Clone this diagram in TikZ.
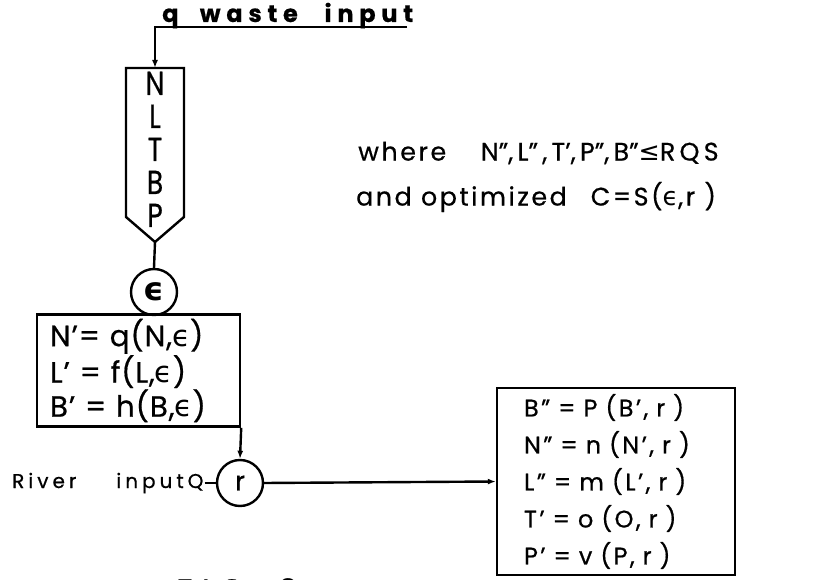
\documentclass[tikz,border=0pt]{standalone}
\usepackage{fontspec}
\setmainfont{Poppins}[FakeBold=0.6]
\newfontfamily\dv{DejaVu Sans}
\usetikzlibrary{arrows.meta}
\begin{document}
\begin{tikzpicture}[x=0.75pt,y=-0.75pt,
  line width=1.8pt,
  arr/.style={-{Latex[length=6pt,width=4.5pt]}},
  lbl/.style={font=\fontsize{19}{22}\selectfont\addfontfeature{LetterSpace=10}, inner sep=0pt},
  big/.style={font=\fontsize{25}{22}\selectfont, inner sep=0pt, text height=12pt, text depth=0pt, anchor=center},
  ring/.style={circle, draw, minimum size=34.5pt, inner sep=0pt},
  eqbox/.style={draw, align=left, anchor=center}
]
\useasboundingbox (0,0) rectangle (814,580);
% top input
\node[lbl, font=\fontsize{18}{22}\selectfont\bfseries\addfontfeature{LetterSpace=24}, anchor=base west] (waste) at (161,22) {q\hspace{16pt}waste\hspace{20pt}input};
\coordinate (wend) at (407,27);
% pentagon
\coordinate (pa) at (126,68);
\coordinate (ptop) at (155,68);
\coordinate (pb) at (184,68);
\coordinate (pc) at (184,217);
\coordinate (pd) at (155,242);
\coordinate (pe) at (126,217);
\draw (pa) -- (pb) -- (pc) -- (pd) -- (pe) -- cycle;
\draw[arr] (wend) -| (ptop);
\node[big] (lN) at (155,87) {\scalebox{0.8}[1]{N}};
\node[big] (lL) at (155,120) {\scalebox{0.8}[1]{L}};
\node[big] (lT) at (155,153) {\scalebox{0.8}[1]{T}};
\node[big] (lB) at (155,186) {\scalebox{0.8}[1]{B}};
\node[big] (lP) at (155,219) {\scalebox{0.8}[1]{P}};
% epsilon circle
\node[ring, font=\fontsize{24}{22}\selectfont\dv\bfseries] (eps) at (154,292) {ϵ};
\draw (pd) -- (eps.north);
% box 1
\node[eqbox, minimum width=152.25pt, minimum height=80.25pt, text width=132.75pt, inner xsep=9.75pt,
  font=\fontsize{22}{22.5}\selectfont\addfontfeature{LetterSpace=3}] (box1) at (138.5,370.5)
  {N'= q(N,{\dv ϵ})\\L' = f(L,{\dv ϵ})\\B' = h(B,{\dv ϵ})};
% river circle
\node[ring, font=\fontsize{20}{22}\selectfont] (r) at (240,483) {r};
\draw[arr] (box1.south east) -- (r.north);
\node[lbl, anchor=west, font=\fontsize{15}{22}\selectfont\addfontfeature{LetterSpace=20}] (river) at (11,483) {River\hspace{30pt}inputQ};
\draw (river.east) -- (r.west);
% box 2
\node[eqbox, minimum width=178.5pt, minimum height=140.25pt, text width=138pt, inner xsep=20.25pt,
  font=\fontsize{18}{27.75}\selectfont\addfontfeature{LetterSpace=10}] (box2) at (616,481.5)
  {B" = P (B', r )\\N" = n (N', r )\\L" = m (L', r )\\T' = o (O, r )\\P' = v (P, r )};
\draw[arr] (r.east) -- (box2.west);
% conditions
\node[lbl, anchor=west] (where) at (357,153) {where\hspace{26pt}{\addfontfeature{LetterSpace=0}N",\,L"\,,\,T',\,P",\,B"{\dv ≤}R\,Q\,S}};
\node[lbl, anchor=west] (opt) at (355,197) {and optimized\hspace{18pt}C=S({\dv ϵ},r )};
% caption (cut off at bottom, as in the reference)
\begin{scope}
\clip (0,0) rectangle (814,580);
\node[lbl, font=\fontsize{24}{24}\selectfont\addfontfeature{LetterSpace=30}, anchor=north west] (fig) at (175,577) {FIG. 2};
\end{scope}
\end{tikzpicture}
\end{document}
